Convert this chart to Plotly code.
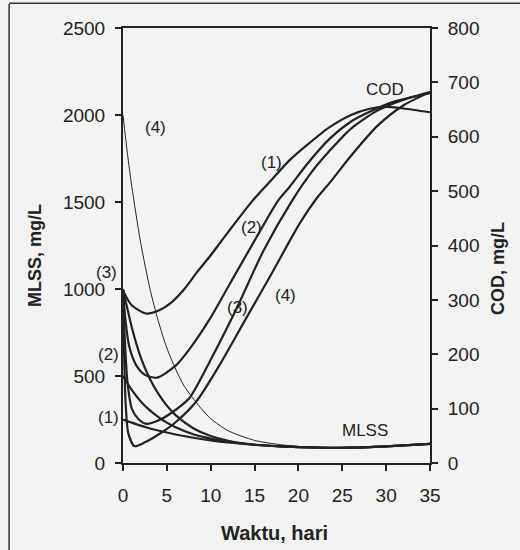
import plotly.graph_objects as go

# time, days
t_cod1 = [0, 1, 2.6, 4, 5.5, 7, 8.4, 10, 12, 14.8, 17, 19, 21, 23.6, 26, 28, 30, 32, 35]
cod1 = [317, 290, 275, 280, 295, 320, 350, 382, 425, 483, 522, 557, 585, 618, 640, 651, 655, 652, 645]

t_cod2 = [0, 0.3, 0.7, 1.5, 2.5, 3.9, 6.0, 7.6, 9.9, 12.2, 15.0, 17.7, 19, 21, 23.6, 26, 28, 31, 35]
cod2 = [317, 260, 215, 180, 162, 157, 179, 210, 265, 330, 409, 483, 508, 550, 597, 628, 645, 665, 680]

t_cod3 = [0, 0.2, 0.5, 1, 1.8, 2.7, 4, 5.5, 7.6, 10, 13, 16, 19.3, 21.5, 23.6, 26, 29, 32, 35]
cod3 = [317, 230, 150, 100, 80, 72, 78, 92, 120, 190, 286, 390, 483, 535, 575, 615, 648, 668, 682]

t_cod4 = [0, 0.1, 0.3, 0.6, 1.3, 2.5, 4, 6, 8.4, 11, 14, 17, 20.2, 22, 23.6, 26, 29, 32, 35]
cod4 = [317, 220, 110, 55, 31, 38, 52, 75, 114, 180, 265, 350, 442, 485, 516, 565, 620, 658, 682]

t_mlss = [0, 1, 2, 3, 4, 5, 6, 8, 10, 12, 15, 18, 22, 26, 30, 35]
mlss1 = [250, 232, 215, 200, 187, 175, 164, 145, 130, 118, 105, 96, 89, 88, 96, 110]
mlss2 = [500, 420, 355, 305, 265, 232, 205, 165, 140, 122, 105, 96, 89, 88, 96, 110]
mlss3 = [1000, 780, 610, 490, 400, 330, 275, 200, 155, 128, 105, 95, 88, 88, 96, 110]

t_mlss4 = [0, 0.5, 1, 2, 3.1, 4, 5, 6, 7, 8.8, 10, 12, 15, 18, 21, 25, 30, 35]
mlss4 = [2000, 1780, 1590, 1270, 995, 820, 660, 540, 440, 320, 255, 185, 130, 105, 92, 88, 95, 110]

x_ticks = [0, 5, 10, 15, 20, 25, 30, 35]
y_left_ticks = [0, 500, 1000, 1500, 2000, 2500]
y_right_ticks = [0, 100, 200, 300, 400, 500, 600, 700, 800]

INK = "#222222"
FONT = "Liberation Sans, Arial, sans-serif"

fig = go.Figure()

def add(t, v, axis, width):
    fig.add_trace(go.Scatter(x=t, y=v, mode="lines", yaxis=axis,
                             line=dict(color=INK, width=width, shape="spline", smoothing=0.7),
                             showlegend=False, hoverinfo="skip"))

for t, v in [(t_mlss, mlss1), (t_mlss, mlss2), (t_mlss, mlss3)]:
    add(t, v, "y", 2.2)
add(t_mlss4, mlss4, "y", 1.0)
for t, v in [(t_cod1, cod1), (t_cod2, cod2), (t_cod3, cod3), (t_cod4, cod4)]:
    add(t, v, "y2", 2.2)

axfont = dict(family=FONT, size=19, color=INK)
common = dict(showline=True, linecolor=INK, linewidth=2, ticks="outside", ticklen=6,
              tickcolor=INK, tickwidth=1.5, showgrid=False, zeroline=False, tickfont=axfont)
fig.update_layout(
    width=520, height=550,
    margin=dict(l=123, r=90, t=28, b=87),
    paper_bgcolor="#f3f3f3", plot_bgcolor="#f3f3f3",
    xaxis=dict(range=[0, 35], tickvals=x_ticks, mirror=True, ticklabelstandoff=8, **common),
    yaxis=dict(range=[0, 2500], tickvals=y_left_ticks, ticklabelstandoff=6, **common),
    yaxis2=dict(range=[0, 800], tickvals=y_right_ticks, overlaying="y", side="right",
                ticklabelstandoff=6, **common),
)

lab = dict(family=FONT, size=17, color=INK)
ann = [
    dict(x=3.65, y=1926, xref="x", yref="y", text="(4)"),
    dict(x=-0.055, y=1092, xref="paper", yref="y", text="(3)"),
    dict(x=-0.046, y=621, xref="paper", yref="y", text="(2)"),
    dict(x=-0.046, y=264, xref="paper", yref="y", text="(1)"),
    dict(x=16.9, y=553, xref="x", yref="y2", text="(1)"),
    dict(x=14.7, y=433, xref="x", yref="y2", text="(2)"),
    dict(x=13.1, y=286, xref="x", yref="y2", text="(3)"),
    dict(x=18.5, y=308, xref="x", yref="y2", text="(4)"),
    dict(x=29.9, y=686, xref="x", yref="y2", text="COD"),
    dict(x=27.6, y=184, xref="x", yref="y", text="MLSS"),
]
for a in ann:
    a.update(showarrow=False, font=lab, xanchor="center", yanchor="middle")
    fig.add_annotation(**a)

bold = dict(family=FONT, size=18, color=INK)
fig.add_annotation(x=-0.287, y=0.478, xref="paper", yref="paper", text="<b>MLSS, mg/L</b>",
                   textangle=-90, showarrow=False, font=bold, xanchor="center", yanchor="middle")
fig.add_annotation(x=1.221, y=0.448, xref="paper", yref="paper", text="<b>COD, mg/L</b>",
                   textangle=-90, showarrow=False, font=bold, xanchor="center", yanchor="middle")
fig.add_annotation(x=0.492, y=-0.161, xref="paper", yref="paper", text="<b>Waktu, hari</b>",
                   showarrow=False, font=dict(family=FONT, size=20, color=INK),
                   xanchor="center", yanchor="middle")

# page frame lines of the scanned figure
fig.add_shape(type="line", xref="paper", yref="paper", x0=-0.371, x1=-0.371, y0=1.055, y1=-0.2,
              line=dict(color="#333333", width=1.5))
fig.add_shape(type="line", xref="paper", yref="paper", x0=-0.371, x1=1.3, y0=1.057, y1=1.057,
              line=dict(color="#333333", width=1.5))

fig.write_html("out.html")
